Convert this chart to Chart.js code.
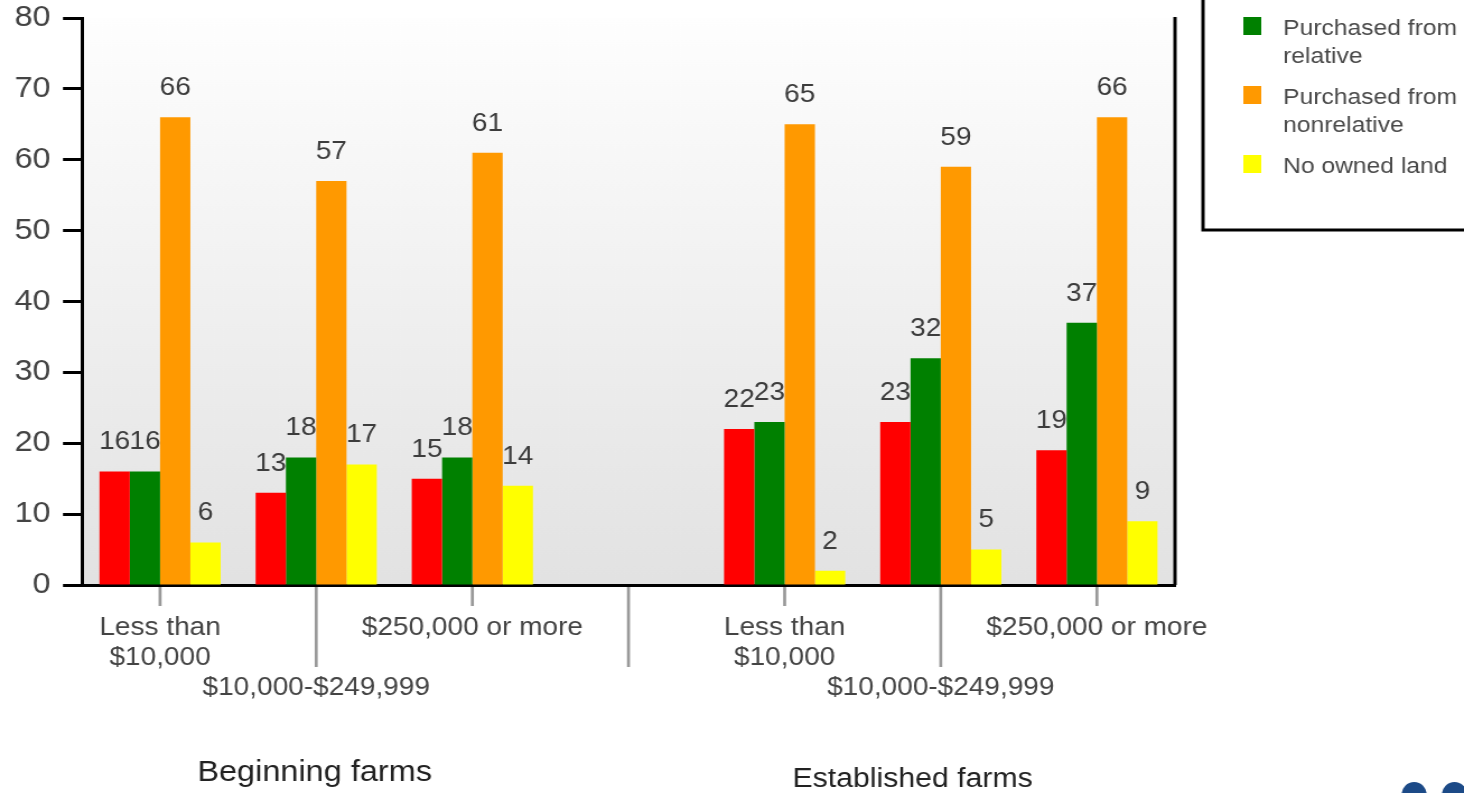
<!DOCTYPE html>
<html>
<head>
<meta charset="utf-8">
<script src="https://cdn.jsdelivr.net/npm/chart.js@4.4.1/dist/chart.umd.min.js"></script>
<style>
    html, body { margin: 0; padding: 0; background: #ffffff; overflow: hidden; }
    /* o grafico original e mais largo que alto: estica so no eixo x */
    #quadro { width: 1307px; height: 793px; transform: scaleX(1.1201); transform-origin: 0 0; }
</style>
</head>
<body>
<div id="quadro"><canvas id="graficoterras" width="1307" height="793"></canvas></div>
<script>
const categorias = [
    'Less than\n$10,000', '$10,000-$249,999', '$250,000 or more', '',
    'Less than\n$10,000', '$10,000-$249,999', '$250,000 or more'
];
const grupos = ['Beginning farms', 'Established farms'];

const series = ['Inherited or gifted', 'Purchased from relative', 'Purchased from nonrelative', 'No owned land'];
const legendaLinhas = [['Inherited or', 'gifted'], ['Purchased from', 'relative'], ['Purchased from', 'nonrelative'], ['No owned land']];
const cores = ['#ff0000', '#008000', '#ff9900', '#ffff00'];

const herdado = [16, 13, 15, null, 22, 23, 19];
const compradoParente = [16, 18, 18, null, 23, 32, 37];
const compradoNaoParente = [66, 57, 61, null, 65, 59, 66];
const semTerra = [6, 17, 14, null, 2, 5, 9];

const valores = [herdado, compradoParente, compradoNaoParente, semTerra];

const fonte = "'Liberation Sans', Arial, sans-serif";
Chart.defaults.font.family = fonte;

// fundo cinza degradê só dentro da area do grafico
const fundoGradiente = {
    id: 'fundoGradiente',
    beforeDraw(chart) {
        const { ctx, chartArea: a } = chart;
        const grad = ctx.createLinearGradient(0, a.top, 0, a.bottom);
        grad.addColorStop(0, '#fefefe');
        grad.addColorStop(1, '#e2e2e2');
        ctx.save();
        ctx.fillStyle = grad;
        ctx.fillRect(a.left, a.top, a.right - a.left, a.bottom - a.top);
        ctx.restore();
    }
};

const extras = {
    id: 'extras',
    afterDraw(chart) {
        const { ctx, chartArea: a } = chart;
        const x = chart.scales.x;
        ctx.save();

        // borda direita
        ctx.strokeStyle = '#000';
        ctx.lineWidth = 3;
        ctx.beginPath();
        ctx.moveTo(a.right, a.top - 1);
        ctx.lineTo(a.right, a.bottom);
        ctx.stroke();

        // marcas do eixo x, alternando curtas e longas
        ctx.strokeStyle = '#999';
        ctx.lineWidth = 2.7;
        categorias.forEach((c, i) => {
            const px = x.getPixelForValue(i);
            ctx.beginPath();
            ctx.moveTo(px, a.bottom + 2);
            ctx.lineTo(px, a.bottom + (i % 2 ? 82 : 21));
            ctx.stroke();
        });

        // valores em cima das barras
        ctx.fillStyle = '#3c3c3c';
        ctx.font = '25px ' + fonte;
        ctx.textAlign = 'center';
        ctx.textBaseline = 'middle';
        chart.data.datasets.forEach((ds, i) => {
            chart.getDatasetMeta(i).data.forEach((barra, j) => {
                const v = ds.data[j];
                if (v === null) return;
                ctx.fillText(String(v), barra.x, barra.y - 29);
            });
        });

        // nomes dos grupos
        ctx.fillStyle = '#222';
        const passo = x.getPixelForValue(1) - x.getPixelForValue(0);
        ctx.font = '29px ' + fonte;
        ctx.fillText(grupos[0], x.getPixelForValue(1) - 0.01 * passo, 773);
        ctx.font = '27px ' + fonte;
        ctx.fillText(grupos[1], x.getPixelForValue(4) + 0.82 * passo, 780);

        // legenda
        const caixaX = a.right + 25;
        ctx.fillStyle = '#fff';
        ctx.fillRect(caixaX, -120, 400, 350);
        ctx.strokeStyle = '#000';
        ctx.lineWidth = 3;
        ctx.strokeRect(caixaX, -120, 400, 350);
        ctx.font = '22px ' + fonte;
        ctx.textAlign = 'left';
        let y = 29 - (legendaLinhas[0].length * 28 + 13);
        legendaLinhas.forEach((linhas, i) => {
            ctx.fillStyle = cores[i];
            ctx.fillRect(caixaX + 36, y - 12, 16, 18);
            ctx.fillStyle = '#4a4a4a';
            linhas.forEach((t, k) => ctx.fillText(t, caixaX + 71.5, y + k * 28));
            y += linhas.length * 28 + 13;
        });

        // pedaço do logotipo no canto
        ctx.fillStyle = '#1c4a87';
        [1262.5, 1298.5].forEach(cx => {
            ctx.beginPath();
            ctx.ellipse(cx, 794.5, 11.2, 12.5, 0, 0, Math.PI * 2);
            ctx.fill();
        });
        ctx.restore();
    }
};

const ctx = document.getElementById('graficoterras').getContext('2d');
new Chart(ctx, {
    type: 'bar',
    data: {
        labels: categorias,
        datasets: series.map((nome, i) => ({
            label: nome,
            data: valores[i],
            backgroundColor: cores[i],
            borderWidth: 0,
            categoryPercentage: 0.776,
            barPercentage: 1.0
        }))
    },
    options: {
        responsive: false,
        animation: false,
        devicePixelRatio: 1,
        layout: { padding: { top: 18, right: 258, bottom: 0, left: 0 } },
        plugins: {
            legend: { display: false },
            tooltip: { enabled: false }
        },
        scales: {
            x: {
                afterFit: scale => { scale.height = 208; },
                grid: { display: false, drawTicks: false },
                border: { display: true, color: '#000', width: 3 },
                ticks: {
                    autoSkip: false,
                    maxRotation: 0,
                    padding: 28,
                    color: '#444',
                    font: { size: 25 },
                    callback: function (value, index) {
                        const linhas = this.getLabelForValue(value).split('\n');
                        return index % 2 ? ['', ''].concat(linhas) : linhas;
                    }
                }
            },
            y: {
                min: 0,
                max: 80,
                afterFit: scale => {
                    scale.width = 73.2;
                    scale.paddingTop = 0;
                    scale.paddingBottom = 0;
                },
                grid: {
                    drawOnChartArea: false,
                    drawTicks: true,
                    tickLength: 17,
                    tickColor: '#000',
                    tickWidth: 3
                },
                border: { display: true, color: '#000', width: 3 },
                ticks: {
                    stepSize: 10,
                    padding: 11,
                    color: '#444',
                    font: { size: 29 }
                }
            }
        }
    },
    plugins: [fundoGradiente, extras]
});
</script>
</body>
</html>
